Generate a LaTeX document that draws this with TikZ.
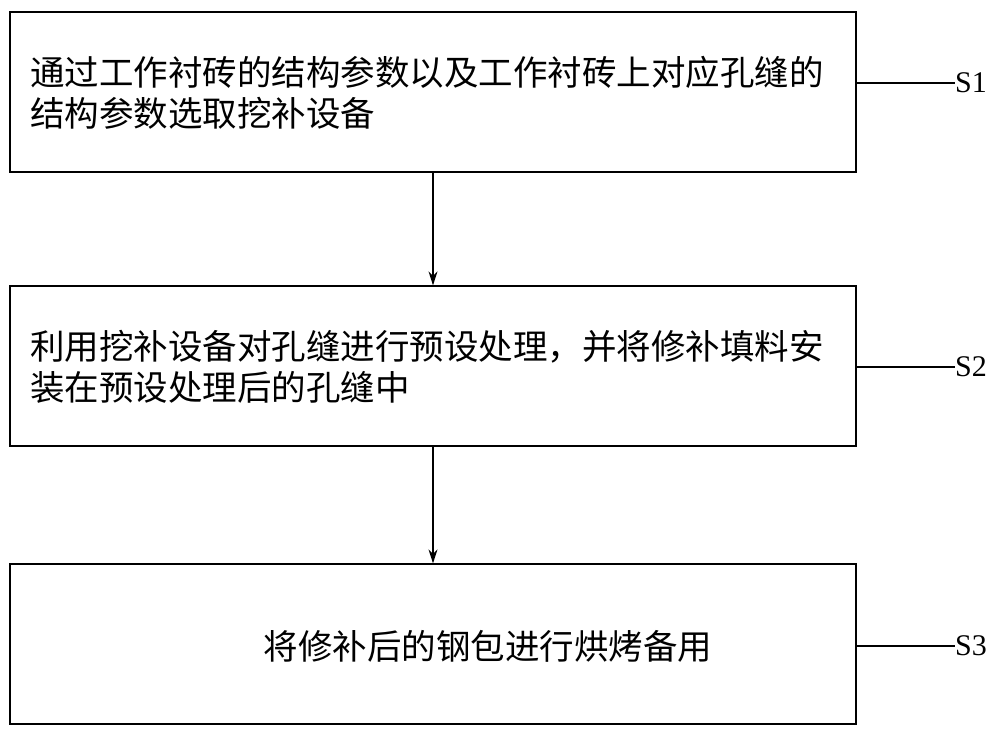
\documentclass[tikz,border=0pt]{standalone}
\usepackage{fontspec}
\setmainfont{Liberation Serif}
\newfontfamily\cjk{Noto Sans CJK SC}
\usetikzlibrary{arrows.meta}
\begin{document}
\begin{tikzpicture}[x=1pt,y=-1pt,
  box/.style={draw,line width=1.3pt,minimum width=846pt,minimum height=160pt,inner sep=0pt},
  txt/.style={font=\cjk\fontsize{34.5}{41}\selectfont,align=left,anchor=west,inner sep=0pt},
  lab/.style={font=\fontsize{30}{30}\selectfont,anchor=west,inner sep=0pt},
  arr/.style={line width=1.3pt,-{Stealth[length=14pt,width=9pt]}}]
\useasboundingbox (0,0) rectangle (1000,739);
\node[box] (b1) at (433,92) {};
\node[box] (b2) at (433,366) {};
\node[box] (b3) at (433,644) {};
\node[txt] (t1) at (30,93) {通过工作衬砖的结构参数以及工作衬砖上对应孔缝的\\结构参数选取挖补设备};
\node[txt] (t2) at (30,367) {利用挖补设备对孔缝进行预设处理，并将修补填料安\\装在预设处理后的孔缝中};
\node[font=\cjk\fontsize{34.5}{41}\selectfont,inner sep=0pt] (t3) at (488,646) {将修补后的钢包进行烘烤备用};
\draw[arr] (b1.south) -- (b2.north);
\draw[arr] (b2.south) -- (b3.north);
\node[lab] (s1) at (955,83) {S1};
\node[lab] (s2) at (955,367) {S2};
\node[lab] (s3) at (955,646) {S3};
\draw[line width=1.1pt] (b1.east |- s1.west) -- (s1.west);
\draw[line width=1.1pt] (b2.east |- s2.west) -- (s2.west);
\draw[line width=1.1pt] (b3.east |- s3.west) -- (s3.west);
\end{tikzpicture}
\end{document}
